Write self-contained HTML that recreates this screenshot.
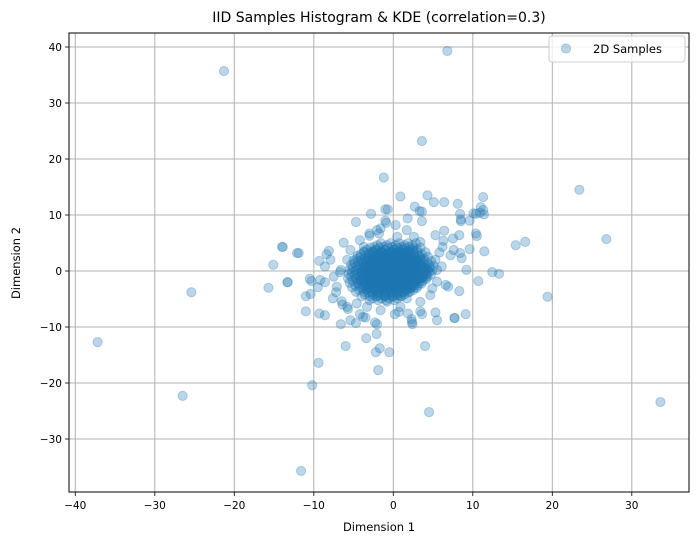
<!DOCTYPE html>
<html><head><meta charset="utf-8"><style>
body{margin:0;background:#fff;}
svg text{font-family:"DejaVu Sans","Liberation Sans",sans-serif;fill:#000;}
</style></head><body>
<svg id="chart" width="698" height="545" xmlns="http://www.w3.org/2000/svg">
<rect width="698" height="545" fill="#fff"/>
<g id="grid"></g><g id="pts"></g><g id="axes"></g>
</svg>
<script>
const xTicks=[-40,-30,-20,-10,0,10,20,30];
const yTicks=[-30,-20,-10,0,10,20,30,40];
const outlierPts=[[6.8,39.3],[-21.3,35.7],[3.6,23.2],[-1.2,16.7],[23.4,14.5],[26.8,5.7],[-37.2,-12.7],[-26.5,-22.3],[-25.4,-3.8],[-11.6,-35.7],[33.6,-23.4],[19.4,-4.6],[4.5,-25.2],[-10.2,-20.4],[-9.4,-16.4],[-15.7,-3.0],[-15.1,1.1],[-14.0,4.3],[-13.3,-2.0],[-12.1,3.2],[15.4,4.6],[16.6,5.2],[12.45,-0.2],[13.3,-0.5],[-1.9,-17.7]];
const midPts=[[0.9,13.3],[4.3,13.5],[5.1,12.3],[6.4,12.3],[8.1,12.0],[11.3,13.2],[11.0,11.4],[11.3,10.9],[11.4,10.1],[10.1,10.3],[8.5,9.2],[8.5,8.9],[9.6,9.0],[2.7,11.5],[3.3,10.7],[3.6,10.6],[3.6,8.9],[1.8,9.4],[0.3,8.2],[-1.0,11.0],[-0.7,11.0],[-2.8,10.2],[-4.7,8.75],[-1.0,9.0],[-0.9,8.6],[-3.0,6.7],[-3.0,6.3],[-2.05,7.3],[-1.6,7.6],[-1.8,6.7],[-6.25,5.05],[-8.1,3.6],[-8.4,3.0],[-9.3,1.8],[-11.9,3.2],[-13.9,4.3],[-8.6,0.8],[-6.6,0.2],[-6.7,-0.2],[-10.5,-1.4],[-10.3,-1.8],[-13.3,-2.0],[-9.2,-1.6],[-8.6,-2.0],[-9.5,-2.9],[-11.0,-4.5],[-10.4,-4.1],[-7.6,-4.9],[-7.2,-3.8],[-6.5,-5.4],[-6.4,-6.0],[-5.8,-6.4],[-5.7,-6.8],[-11.0,-7.2],[-9.3,-7.6],[-8.6,-7.9],[-6.6,-9.5],[-5.4,-8.8],[-4.7,-9.3],[-4.2,-7.7],[-3.8,-8.2],[-3.5,-8.3],[-2.3,-9.2],[-2.05,-9.5],[-2.1,-11.25],[-3.4,-12.0],[-6.0,-13.4],[-2.2,-14.5],[-1.7,-13.8],[-0.5,-14.5],[0.2,-7.7],[0.7,-7.3],[2.35,-9.1],[2.4,-9.5],[2.3,-8.6],[1.85,-7.6],[3.4,-7.2],[3.6,-7.7],[5.3,-7.4],[5.5,-8.8],[7.7,-8.4],[9.1,-7.7],[4.0,-13.4],[8.3,-3.6],[10.7,-1.8],[11.45,3.5],[9.6,3.9],[9.2,0.2],[8.4,3.2],[8.6,2.3],[7.6,3.75],[7.2,2.8],[5.3,6.4],[6.4,7.2],[6.3,5.4],[7.5,5.8],[8.3,6.4],[10.4,6.7],[10.5,6.25],[6.2,4.3],[5.8,3.3],[6.1,0.8],[6.6,-2.5],[6.9,-2.8],[5.5,-1.9],[4.65,-4.3],[4.9,-3.1],[3.4,-5.5],[1.7,-4.9],[0.9,-6.4],[5.3,2.0],[5.5,0.2],[1.7,7.3],[0.5,6.1],[2.6,6.1],[3.4,5.2],[-7.9,2.0],[-7.5,-1.0],[-5.8,2.0],[-7.1,-2.8],[-4.6,-5.8],[-3.3,-6.4],[-1.6,-7.0],[-0.8,-5.5],[-4.2,5.5],[-3.7,4.3],[-5.4,3.75],[8.4,10.2],[10.9,10.4],[7.7,-8.4],[10.4,10.2]];
const coreRows=[[4.6,[-2.0,-0.8,0.3,1.4,2.4]],[3.8,[-3.3,-2.2,-1.1,0.1,1.0,2.1,3.0]],[3.0,[-4.1,-3.0,-1.9,-0.7,0.4,1.5,2.6,3.6]],[2.2,[-4.6,-3.6,-2.5,-1.5,-0.4,0.7,1.8,2.9,3.9]],[1.4,[-4.9,-3.9,-2.9,-1.8,-0.8,0.3,1.3,2.4,3.4,4.3]],[0.6,[-5.1,-4.1,-3.1,-2.1,-1.0,0.0,1.0,2.1,3.1,4.1,4.6]],[-0.2,[-5.2,-4.2,-3.2,-2.2,-1.2,-0.2,0.8,1.9,2.9,3.9,4.5]],[-1.0,[-5.3,-4.3,-3.3,-2.3,-1.3,-0.3,0.7,1.7,2.7,3.7,4.3]],[-1.8,[-5.1,-4.1,-3.2,-2.2,-1.2,-0.2,0.8,1.8,2.8,3.7]],[-2.6,[-4.8,-3.8,-2.8,-1.8,-0.8,0.2,1.2,2.2,3.1]],[-3.4,[-4.3,-3.3,-2.3,-1.3,-0.3,0.7,1.7,2.5]],[-4.2,[-3.6,-2.6,-1.6,-0.6,0.4,1.4]],[-4.9,[-2.6,-1.5,-0.5,0.5]],[3.4,[-2.6,-1.5,-0.3,0.9,2.0]],[1.8,[-3.4,-2.3,-1.2,-0.1,1.0,2.0,3.0]],[0.2,[-3.6,-2.6,-1.5,-0.5,0.5,1.5,2.6,3.5]],[-1.4,[-3.8,-2.7,-1.7,-0.7,0.3,1.3,2.3,3.2]],[-3.0,[-3.0,-1.9,-0.9,0.2,1.1,2.0]]];

const L=69,R=689,T=33,B=492;
const X=v=>393.3+v*7.95;
const Y=v=>271-v*5.6;
const NS="http://www.w3.org/2000/svg";
function mk(tag,attrs,parent){const e=document.createElementNS(NS,tag);for(const k in attrs)e.setAttribute(k,attrs[k]);parent.appendChild(e);return e;}
const grid=document.getElementById('grid'),pts=document.getElementById('pts'),axes=document.getElementById('axes');
xTicks.forEach(t=>{
  const g=mk('line',{x1:X(t),x2:X(t),y1:T,y2:B,stroke:'#b0b0b0','stroke-width':1},grid);
  
  
  mk('line',{x1:X(t),x2:X(t),y1:B,y2:B+4,stroke:'#000','stroke-width':0.8},axes);
  const tx=mk('text',{x:X(t),y:B+17,'text-anchor':'middle','font-size':10.5},axes);
  tx.textContent=String(t).replace('-','\u2212');
  
  
});
yTicks.forEach(t=>{
  const g=mk('line',{x1:L,x2:R,y1:Y(t),y2:Y(t),stroke:'#b0b0b0','stroke-width':1},grid);
  
  
  mk('line',{x1:L-4,x2:L,y1:Y(t),y2:Y(t),stroke:'#000','stroke-width':0.8},axes);
  const tx=mk('text',{x:L-7,y:Y(t)+4,'text-anchor':'end','font-size':10.5},axes);
  tx.textContent=String(t).replace('-','\u2212');
  
  
});
function dot(x,y){
  const c=mk('circle',{cx:X(x),cy:Y(y),r:4.6,fill:'#1f77b4','fill-opacity':0.3,stroke:'#1f77b4','stroke-opacity':0.3,'stroke-width':1},pts);
  
  
}
outlierPts.forEach(p=>dot(p[0],p[1]));
midPts.forEach(p=>dot(p[0],p[1]));
coreRows.forEach(r=>r[1].forEach(x=>dot(x,r[0])));
coreRows.forEach(r=>r[1].forEach(x=>dot(x+0.45,r[0]+0.35)));
coreRows.forEach(r=>r[1].forEach(x=>dot(x-0.4,r[0]-0.3)));
coreRows.forEach(r=>r[1].forEach(x=>dot(x*0.8+0.2,r[0]*0.8-0.4)));
coreRows.forEach(r=>r[1].forEach(x=>dot(x*0.6-0.2,r[0]*0.6+0.3)));
const frame=mk('rect',{x:L,y:T,width:R-L,height:B-T,fill:'none',stroke:'#000','stroke-width':1},axes);


</script>
<svg style="position:absolute;left:0;top:0" width="698" height="545" xmlns="http://www.w3.org/2000/svg">
<text x="379" y="22" text-anchor="middle" font-size="14">IID Samples Histogram &amp; KDE (correlation=0.3)</text>
<text x="379" y="531" text-anchor="middle" font-size="11.5">Dimension 1</text>
<text x="20" y="263" text-anchor="middle" font-size="11.5" transform="rotate(-90 20 263)">Dimension 2</text>
<g>
<rect x="549" y="36" width="136" height="26" rx="3" fill="#fff" fill-opacity="0.8" stroke="#ccc"/>
<circle cx="566" cy="48.5" r="4.6" fill="#1f77b4" fill-opacity="0.3" stroke="#1f77b4" stroke-opacity="0.3"/>
<text x="593" y="53" font-size="11.5">2D Samples</text>
</g>
</svg>
</body></html>
